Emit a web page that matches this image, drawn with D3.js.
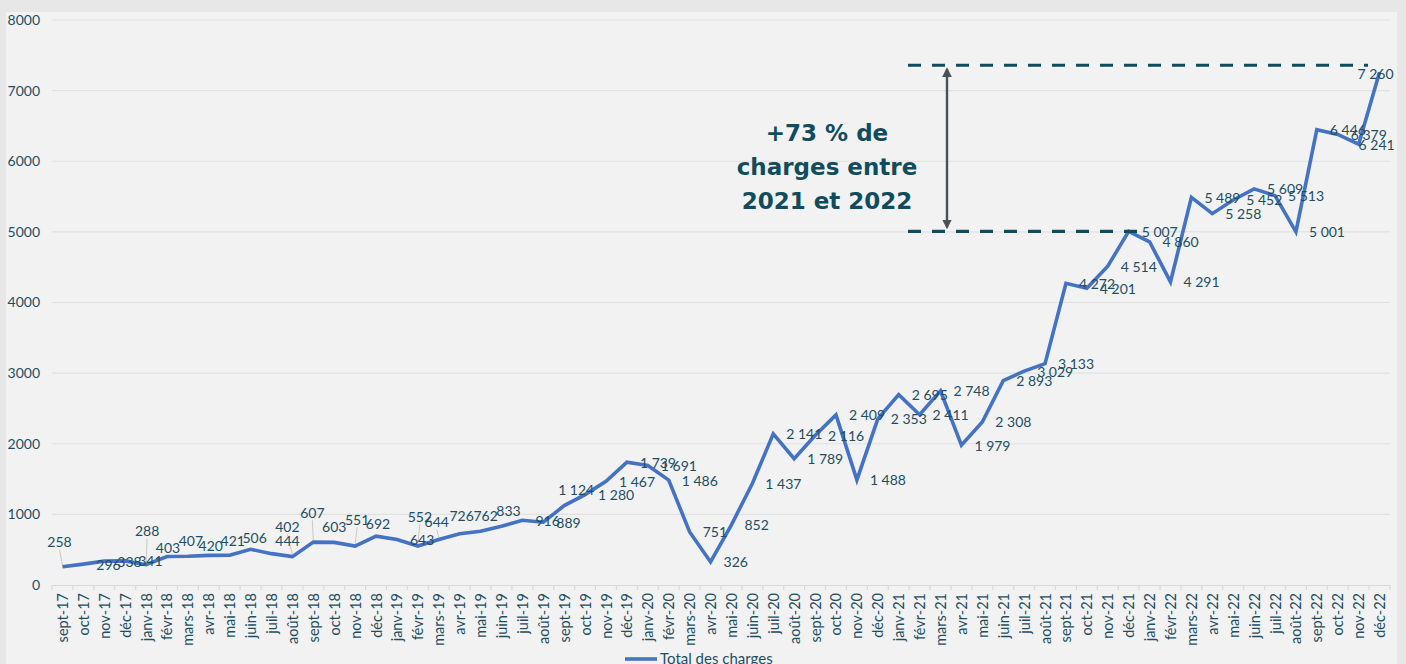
<!DOCTYPE html>
<html lang="fr">
<head>
<meta charset="utf-8">
<script src="https://cdn.jsdelivr.net/npm/d3@7/dist/d3.min.js"></script>
<style>
  html, body { margin: 0; padding: 0; background: #e7e7e7; }
  svg { display: block; }
</style>
</head>
<body>
<svg id="chart" width="1406" height="664"></svg>
<script>
// Monthly totals of charges, Sept 2017 – Dec 2022
const months = [
  "sept-17","oct-17","nov-17","déc-17",
  "janv-18","févr-18","mars-18","avr-18","mai-18","juin-18","juil-18","août-18","sept-18","oct-18","nov-18","déc-18",
  "janv-19","févr-19","mars-19","avr-19","mai-19","juin-19","juil-19","août-19","sept-19","oct-19","nov-19","déc-19",
  "janv-20","févr-20","mars-20","avr-20","mai-20","juin-20","juil-20","août-20","sept-20","oct-20","nov-20","déc-20",
  "janv-21","févr-21","mars-21","avr-21","mai-21","juin-21","juil-21","août-21","sept-21","oct-21","nov-21","déc-21",
  "janv-22","févr-22","mars-22","avr-22","mai-22","juin-22","juil-22","août-22","sept-22","oct-22","nov-22","déc-22"
];
const totalCharges = [
  258, 296, 338, 341,
  288, 403, 407, 420, 421, 506, 444, 402, 607, 603, 551, 692,
  643, 552, 644, 726, 762, 833, 916, 889, 1124, 1280, 1467, 1739,
  1691, 1486, 751, 326, 852, 1437, 2141, 1789, 2116, 2409, 1488, 2353,
  2695, 2411, 2748, 1979, 2308, 2893, 3029, 3133, 4272, 4201, 4514, 5007,
  4860, 4291, 5489, 5258, 5452, 5609, 5513, 5001, 6446, 6379, 6241, 7260
];
const yTicks = [0, 1000, 2000, 3000, 4000, 5000, 6000, 7000, 8000];
const seriesName = "Total des charges";

// Comparison between Dec 2021 and Dec 2022
const compareFrom = 5007;
const compareTo = 7260;
const noteLines = ["+73 % de", "charges entre", "2021 et 2022"];

// Label placement: missing = to the right of the point,
// otherwise [dx, dy, leader] for a centred label nudged away from the point
const labelNudge = {
  0: [-3, -25, true], 4: [1, -34, true], 5: [1, -9], 6: [3, -16], 7: [2, -10],
  8: [3, -15], 9: [4, -12], 10: [16, -13], 11: [-5, -30, true], 12: [-1, -30, true],
  13: [0, -16], 14: [2, -27, true], 15: [2, -13], 17: [2, -30, true], 18: [-2, -18, true],
  19: [2, -18], 20: [5, -16], 21: [7, -16], 24: [12, -16], 62: [18, 0], 63: [-4, 1]
};

const svg = d3.select("#chart");
const W = 1406, H = 664;
const plot = { left: 52, right: 1390, top: 20, bottom: 585 };
const textColor = "#1d4e63";
const font = "Lato, 'Noto Sans', sans-serif";

// Panel background
svg.append("rect").attr("x", 0).attr("y", 0).attr("width", W).attr("height", H).attr("fill", "#e7e7e7");
svg.append("rect").attr("x", 6).attr("y", 12).attr("width", 1391).attr("height", H - 12).attr("fill", "#f2f2f2");

const x = d3.scaleBand().domain(months).range([plot.left, plot.right]).padding(0);
const y = d3.scaleLinear().domain([0, 8000]).range([plot.bottom, plot.top]);
const cx = m => x(m) + x.bandwidth() / 2;

// Horizontal gridlines
svg.append("g")
  .selectAll("line").data(yTicks.filter(t => t > 0)).join("line")
  .attr("x1", plot.left).attr("x2", plot.right)
  .attr("y1", d => y(d)).attr("y2", d => y(d))
  .attr("stroke", "#e1e1e1").attr("stroke-width", 1.2);

// Y axis labels
const yAxis = svg.append("g")
  .attr("transform", `translate(${plot.left},0)`)
  .call(d3.axisLeft(y).tickValues(yTicks).tickFormat(d3.format("d")).tickSize(0).tickPadding(12));
yAxis.select(".domain").remove();
yAxis.selectAll("text").attr("fill", textColor).attr("font-family", font).attr("font-size", 14);

// X axis with ticks at month boundaries
const xAxis = svg.append("g")
  .attr("transform", `translate(0,${plot.bottom})`)
  .call(d3.axisBottom(x).tickSize(0).tickPadding(0));
xAxis.select(".domain").attr("stroke", "#d9d9d9").attr("stroke-width", 1.2);
xAxis.selectAll(".tick text")
  .attr("fill", textColor).attr("font-family", font).attr("font-size", 14.5)
  .attr("text-anchor", "end").attr("dominant-baseline", "central")
  .attr("transform", "translate(0,8) rotate(-90)")
  .attr("x", 0).attr("y", 0).attr("dy", null);
svg.append("g").selectAll("line").data(d3.range(months.length + 1)).join("line")
  .attr("x1", i => plot.left + i * x.bandwidth())
  .attr("x2", i => plot.left + i * x.bandwidth())
  .attr("y1", plot.bottom).attr("y2", plot.bottom + 5)
  .attr("stroke", "#d9d9d9").attr("stroke-width", 1.2);

// Leader lines sit beneath the series line
const leaders = svg.append("g").attr("stroke", "#c8c8c8").attr("stroke-width", 1);

// Series line
const pts = months.map((m, i) => ({ m, v: totalCharges[i], i }));
svg.append("path")
  .datum(pts)
  .attr("fill", "none").attr("stroke", "#4472c4").attr("stroke-width", 3.6)
  .attr("stroke-linejoin", "miter")
  .attr("d", d3.line().x(d => cx(d.m)).y(d => y(d.v)));

// Data labels
const fmt = v => d3.format(",")(v).replace(/,/g, " ");
const lbl = svg.append("g").attr("font-family", font).attr("font-size", 14).attr("fill", textColor);
pts.forEach(d => {
  const px = cx(d.m), py = y(d.v);
  const n = labelNudge[d.i];
  if (n) {
    if (n[2]) {
      leaders.append("line")
        .attr("x1", px + n[0]).attr("y1", py + n[1] + 8)
        .attr("x2", px).attr("y2", py - 2);
    }
    lbl.append("text").attr("x", px + n[0]).attr("y", py + n[1])
      .attr("text-anchor", "middle").attr("dominant-baseline", "central").text(fmt(d.v));
  } else {
    lbl.append("text").attr("x", px + 13).attr("y", py)
      .attr("text-anchor", "start").attr("dominant-baseline", "central").text(fmt(d.v));
  }
});

// Annotation: dashed reference lines, double arrow and caption
const annColor = "#0f4c5d";
const yLow = y(compareFrom);
const yHigh = y(compareTo) - 7;
const dash = (x1, x2, yy) => svg.append("line")
  .attr("x1", x1).attr("x2", x2).attr("y1", yy).attr("y2", yy)
  .attr("stroke", annColor).attr("stroke-width", 3.2).attr("stroke-dasharray", "13 11");
dash(908, 1368, yHigh);
dash(908, 1146, yLow);

const defs = svg.append("defs");
defs.append("marker").attr("id", "head").attr("viewBox", "0 0 10 10")
  .attr("refX", 8).attr("refY", 5).attr("markerWidth", 4).attr("markerHeight", 4)
  .attr("orient", "auto-start-reverse")
  .append("path").attr("d", "M0,0 L10,5 L0,10 Z").attr("fill", "#4a5058");
svg.append("line")
  .attr("x1", 947).attr("x2", 947).attr("y1", yHigh + 4).attr("y2", yLow - 4)
  .attr("stroke", "#4a5058").attr("stroke-width", 2.4)
  .attr("marker-start", "url(#head)").attr("marker-end", "url(#head)");

svg.append("text")
  .attr("x", 827).attr("y", 133)
  .attr("font-family", "'DejaVu Sans', sans-serif").attr("font-weight", "bold")
  .attr("font-size", 23).attr("fill", annColor).attr("text-anchor", "middle")
  .selectAll("tspan").data(noteLines).join("tspan")
  .attr("x", 827).attr("dy", (d, i) => i === 0 ? "0.35em" : 34).text(d => d);

// Legend
svg.append("line").attr("x1", 625).attr("x2", 657).attr("y1", 659).attr("y2", 659)
  .attr("stroke", "#4472c4").attr("stroke-width", 3.6);
svg.append("text").attr("x", 660).attr("y", 664)
  .attr("font-family", font).attr("font-size", 15).attr("fill", textColor)
  .text(seriesName);
</script>
</body>
</html>
